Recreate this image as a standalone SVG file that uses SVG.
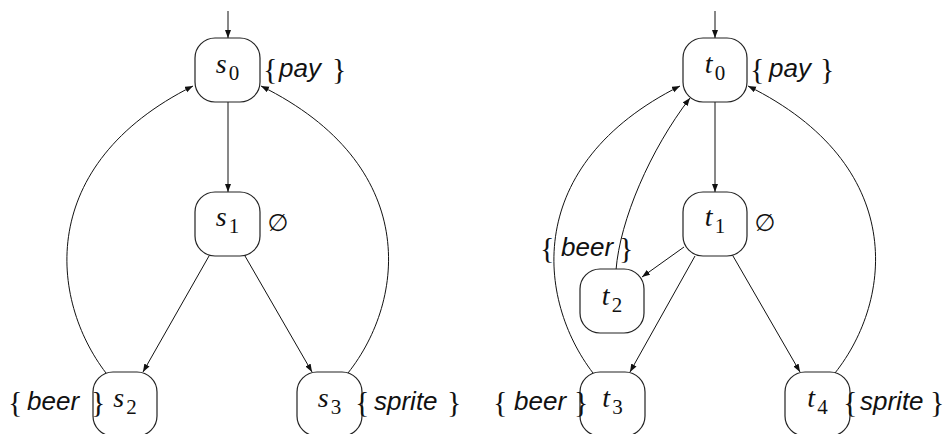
<svg xmlns="http://www.w3.org/2000/svg" width="946" height="434" viewBox="0 0 946 434">
<style>
.box{fill:#fff;stroke:#222;stroke-width:1.2}
.e{fill:none;stroke:#111;stroke-width:1}
.st{font-family:"Liberation Serif",serif;font-size:28px;fill:#111}
.st .i{font-style:italic}
.st .sub{font-size:21px}
.br{font-family:"Liberation Serif",serif;font-size:30px;fill:#111}
.w{font-family:"Liberation Sans",sans-serif;font-style:italic;font-size:26px;fill:#111}
.em{font-family:"DejaVu Sans",sans-serif;font-size:24px;fill:#111}
</style>
<defs>
<marker id="ah" markerWidth="9" markerHeight="7" refX="8" refY="3" orient="auto" markerUnits="userSpaceOnUse">
<path d="M0,0 L8,3 L0,6 z" fill="#111"/>
</marker>
</defs>
<rect width="946" height="434" fill="#fff"/>
<g id="connectors">
<line class="e" x1="228" y1="11" x2="228" y2="38" marker-end="url(#ah)"/>
<line class="e" x1="228" y1="102" x2="228" y2="192" marker-end="url(#ah)"/>
<line class="e" x1="209" y1="256" x2="143" y2="372" marker-end="url(#ah)"/>
<line class="e" x1="245" y1="256" x2="312" y2="372" marker-end="url(#ah)"/>
<path class="e" d="M106,373 C50,300 35,165 193,86" marker-end="url(#ah)"/>
<path class="e" d="M348,373 C406,300 421,165 261,86" marker-end="url(#ah)"/>
<line class="e" x1="715" y1="11" x2="715" y2="38" marker-end="url(#ah)"/>
<line class="e" x1="715" y1="102" x2="715" y2="192" marker-end="url(#ah)"/>
<line class="e" x1="684" y1="247" x2="642" y2="277" marker-end="url(#ah)"/>
<line class="e" x1="695" y1="256" x2="630" y2="372" marker-end="url(#ah)"/>
<line class="e" x1="733" y1="256" x2="800" y2="372" marker-end="url(#ah)"/>
<path class="e" d="M593,373 C537,300 522,165 680,86" marker-end="url(#ah)"/>
<path class="e" d="M835,373 C893,300 908,165 748,86" marker-end="url(#ah)"/>
<path class="e" d="M616,270 C620,220 650,150 690,98" marker-end="url(#ah)"/>
</g>
<g id="s0">
<rect class="box" x="195" y="38" width="65" height="64" rx="20"/>
<text class="st" x="227.5" y="73" text-anchor="middle"><tspan class="i">s</tspan><tspan class="sub" dx="2" dy="7">0</tspan></text>
<text class="br" x="263" y="79">{</text><text class="w" x="279" y="77">pay</text><text class="br" x="332" y="79">}</text>
</g>
<g id="s1">
<rect class="box" x="195" y="192" width="65" height="64" rx="20"/>
<text class="st" x="227.5" y="226" text-anchor="middle"><tspan class="i">s</tspan><tspan class="sub" dx="2" dy="7">1</tspan></text>
<text class="em" x="278" y="231" text-anchor="middle">∅</text>
</g>
<g id="s2">
<rect class="box" x="93" y="372" width="64" height="64" rx="20"/>
<text class="st" x="125" y="407" text-anchor="middle"><tspan class="i">s</tspan><tspan class="sub" dx="2" dy="7">2</tspan></text>
<text class="br" x="8" y="412">{</text><text class="w" x="27" y="410">beer</text><text class="br" x="91" y="412">}</text>
</g>
<g id="s3">
<rect class="box" x="297" y="372" width="65" height="64" rx="20"/>
<text class="st" x="329.5" y="407" text-anchor="middle"><tspan class="i">s</tspan><tspan class="sub" dx="2" dy="7">3</tspan></text>
<text class="br" x="355" y="412">{</text><text class="w" x="374" y="410">sprite</text><text class="br" x="447" y="412">}</text>
</g>
<g id="t0">
<rect class="box" x="683" y="38" width="64" height="64" rx="20"/>
<text class="st" x="715" y="73" text-anchor="middle"><tspan class="i">t</tspan><tspan class="sub" dx="2" dy="7">0</tspan></text>
<text class="br" x="750" y="79">{</text><text class="w" x="769" y="77">pay</text><text class="br" x="820" y="79">}</text>
</g>
<g id="t1">
<rect class="box" x="683" y="192" width="64" height="64" rx="20"/>
<text class="st" x="715" y="226" text-anchor="middle"><tspan class="i">t</tspan><tspan class="sub" dx="2" dy="7">1</tspan></text>
<text class="em" x="765" y="231" text-anchor="middle">∅</text>
</g>
<g id="t2">
<rect class="box" x="580" y="269" width="64" height="64" rx="20"/>
<text class="st" x="612" y="305" text-anchor="middle"><tspan class="i">t</tspan><tspan class="sub" dx="2" dy="7">2</tspan></text>
<text class="br" x="540" y="258">{</text><text class="w" x="561" y="256">beer</text><text class="br" x="619" y="258">}</text>
</g>
<g id="t3">
<rect class="box" x="580" y="372" width="65" height="64" rx="20"/>
<text class="st" x="612.5" y="407" text-anchor="middle"><tspan class="i">t</tspan><tspan class="sub" dx="2" dy="7">3</tspan></text>
<text class="br" x="493" y="412">{</text><text class="w" x="514" y="410">beer</text><text class="br" x="574" y="412">}</text>
</g>
<g id="t4">
<rect class="box" x="785" y="372" width="65" height="64" rx="20"/>
<text class="st" x="817.5" y="407" text-anchor="middle"><tspan class="i">t</tspan><tspan class="sub" dx="2" dy="7">4</tspan></text>
<text class="br" x="843" y="412">{</text><text class="w" x="860" y="410">sprite</text><text class="br" x="930" y="412">}</text>
</g>
</svg>
